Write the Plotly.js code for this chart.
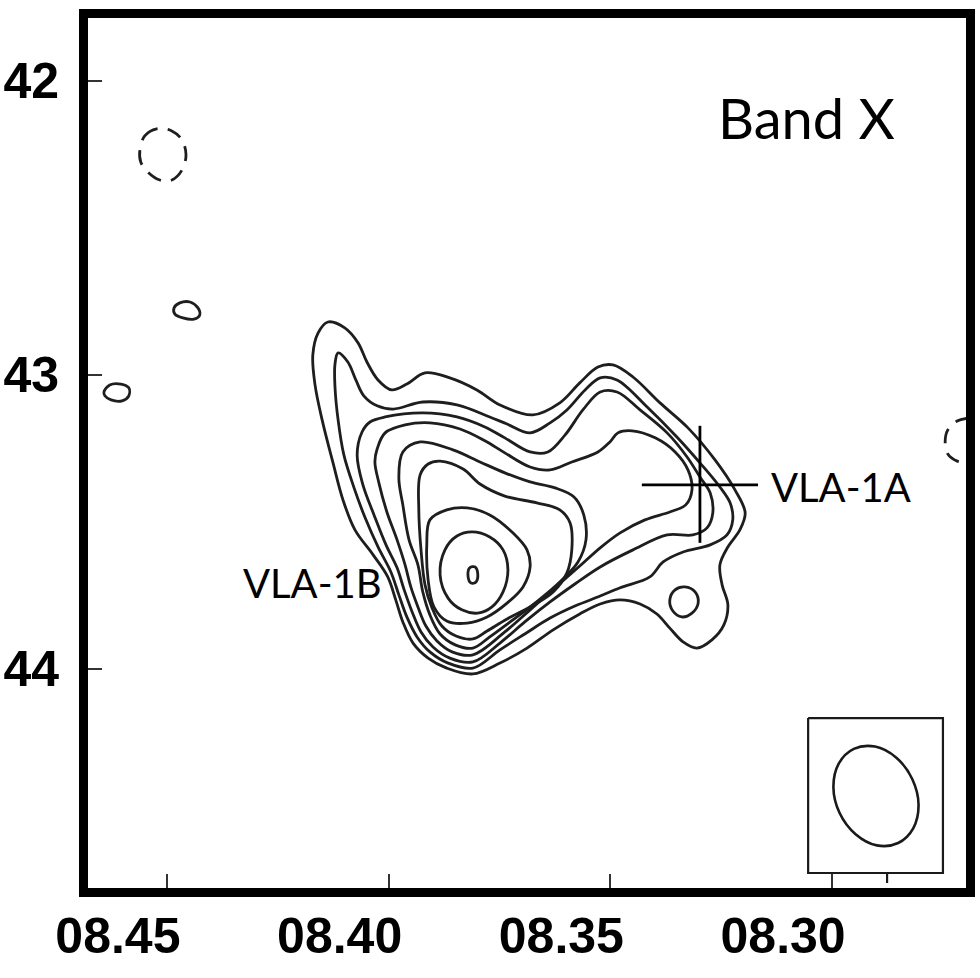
<!DOCTYPE html>
<html>
<head>
<meta charset="utf-8">
<script src="https://cdn.plot.ly/plotly-3.0.1.min.js"></script>
<style>
  html, body { margin: 0; padding: 0; background: #fff; }
  #plot { width: 980px; height: 978px; }
</style>
</head>
<body>
<div id="plot"></div>
<script>
// tick labels
var xTickVals = [8.45, 8.40, 8.35, 8.30];
var xTickText = ['08.45', '08.40', '08.35', '08.30'];
var yTickVals = [42, 43, 44];

// contour levels, outermost first (RA seconds, Dec arcsec)
var c1x = [8.4137, 8.4099, 8.4069, 8.4049, 8.4024, 8.3993, 8.3959, 8.3918, 8.3862, 8.3801, 8.3749, 8.3675, 8.3614, 8.3569, 8.3528, 8.3494, 8.3449, 8.3388, 8.3325, 8.3264, 8.3219, 8.3196, 8.3208, 8.3235, 8.3253, 8.3248, 8.3235, 8.3244, 8.3271, 8.3305, 8.3336, 8.3366, 8.3395, 8.3433, 8.3478, 8.3523, 8.3569, 8.3629, 8.3688, 8.3749, 8.3810, 8.3869, 8.3911, 8.3945, 8.3968, 8.3984, 8.4002, 8.4035, 8.4076, 8.4103, 8.4126, 8.4150, 8.4166, 8.4171, 8.4159, 8.4137];
var c1y = [42.820, 42.840, 42.891, 42.956, 43.017, 43.051, 43.031, 42.993, 43.010, 43.051, 43.102, 43.136, 43.095, 43.027, 42.973, 42.966, 43.007, 43.095, 43.180, 43.289, 43.391, 43.469, 43.527, 43.585, 43.646, 43.714, 43.782, 43.850, 43.901, 43.929, 43.908, 43.861, 43.813, 43.779, 43.765, 43.779, 43.813, 43.867, 43.929, 43.980, 44.017, 43.997, 43.963, 43.912, 43.840, 43.765, 43.687, 43.612, 43.527, 43.425, 43.296, 43.153, 43.034, 42.932, 42.857, 42.820];

var c2x = [8.4114, 8.4092, 8.4074, 8.4056, 8.4026, 8.3990, 8.3923, 8.3846, 8.3772, 8.3733, 8.3681, 8.3636, 8.3598, 8.3557, 8.3523, 8.3485, 8.3417, 8.3350, 8.3298, 8.3253, 8.3230, 8.3224, 8.3237, 8.3275, 8.3336, 8.3381, 8.3411, 8.3478, 8.3523, 8.3580, 8.3636, 8.3693, 8.3749, 8.3810, 8.3866, 8.3907, 8.3936, 8.3959, 8.3977, 8.3995, 8.4024, 8.4053, 8.4078, 8.4101, 8.4114, 8.4121, 8.4121, 8.4114];
var c2y = [42.925, 42.956, 43.017, 43.071, 43.105, 43.116, 43.092, 43.102, 43.143, 43.167, 43.197, 43.163, 43.119, 43.051, 43.010, 43.017, 43.109, 43.211, 43.299, 43.381, 43.435, 43.493, 43.544, 43.578, 43.602, 43.636, 43.687, 43.724, 43.752, 43.786, 43.827, 43.881, 43.935, 43.997, 43.980, 43.942, 43.891, 43.823, 43.748, 43.670, 43.585, 43.486, 43.384, 43.272, 43.153, 43.041, 42.963, 42.925];

// small island of level 2 south of VLA-1A
var c2bx = [8.3366, 8.3354, 8.3332, 8.3309, 8.3302, 8.3316, 8.3339, 8.3359, 8.3366];
var c2by = [43.765, 43.731, 43.721, 43.738, 43.776, 43.810, 43.823, 43.803, 43.765];

var c3x = [8.4060, 8.4042, 8.4008, 8.3923, 8.3846, 8.3783, 8.3738, 8.3681, 8.3641, 8.3602, 8.3562, 8.3523, 8.3485, 8.3433, 8.3372, 8.3327, 8.3298, 8.3275, 8.3269, 8.3282, 8.3314, 8.3372, 8.3449, 8.3523, 8.3580, 8.3636, 8.3693, 8.3749, 8.3810, 8.3862, 8.3900, 8.3927, 8.3947, 8.3965, 8.3981, 8.4006, 8.4033, 8.4058, 8.4071, 8.4060];
var c3y = [43.194, 43.160, 43.143, 43.129, 43.143, 43.177, 43.214, 43.262, 43.262, 43.204, 43.119, 43.058, 43.058, 43.119, 43.197, 43.279, 43.347, 43.401, 43.469, 43.520, 43.544, 43.544, 43.595, 43.653, 43.711, 43.772, 43.840, 43.912, 43.976, 43.963, 43.925, 43.874, 43.806, 43.731, 43.656, 43.578, 43.476, 43.374, 43.272, 43.194];

var c4x = [8.4026, 8.4008, 8.3963, 8.3907, 8.3839, 8.3783, 8.3738, 8.3681, 8.3636, 8.3587, 8.3528, 8.3501, 8.3483, 8.3451, 8.3399, 8.3354, 8.3325, 8.3316, 8.3330, 8.3366, 8.3422, 8.3478, 8.3523, 8.3569, 8.3625, 8.3681, 8.3738, 8.3810, 8.3857, 8.3891, 8.3916, 8.3934, 8.3950, 8.3963, 8.3981, 8.4004, 8.4022, 8.4031, 8.4026];
var c4y = [43.252, 43.197, 43.170, 43.163, 43.184, 43.224, 43.265, 43.313, 43.323, 43.296, 43.262, 43.228, 43.197, 43.190, 43.214, 43.262, 43.323, 43.391, 43.442, 43.466, 43.493, 43.537, 43.588, 43.650, 43.724, 43.799, 43.874, 43.952, 43.942, 43.905, 43.854, 43.789, 43.721, 43.646, 43.561, 43.466, 43.367, 43.296, 43.252];

var c5x = [8.3968, 8.3929, 8.3855, 8.3794, 8.3738, 8.3681, 8.3625, 8.3582, 8.3560, 8.3555, 8.3573, 8.3614, 8.3670, 8.3726, 8.3772, 8.3810, 8.3850, 8.3884, 8.3907, 8.3923, 8.3934, 8.3954, 8.3968, 8.3977, 8.3968];
var c5y = [43.262, 43.228, 43.255, 43.296, 43.333, 43.364, 43.384, 43.415, 43.476, 43.561, 43.636, 43.704, 43.776, 43.840, 43.891, 43.929, 43.918, 43.881, 43.816, 43.738, 43.646, 43.561, 43.442, 43.350, 43.262];

var c6x = [8.3929, 8.3911, 8.3884, 8.3832, 8.3794, 8.3738, 8.3666, 8.3614, 8.3591, 8.3587, 8.3598, 8.3629, 8.3681, 8.3733, 8.3778, 8.3810, 8.3848, 8.3880, 8.3902, 8.3918, 8.3927, 8.3932, 8.3929];
var c6y = [43.340, 43.303, 43.293, 43.320, 43.371, 43.412, 43.435, 43.459, 43.503, 43.595, 43.673, 43.738, 43.789, 43.830, 43.871, 43.898, 43.888, 43.854, 43.793, 43.714, 43.595, 43.459, 43.340];

var c7x = [8.3907, 8.3869, 8.3823, 8.3772, 8.3720, 8.3688, 8.3681, 8.3697, 8.3733, 8.3778, 8.3823, 8.3869, 8.3898, 8.3911, 8.3914, 8.3907];
var c7y = [43.493, 43.459, 43.452, 43.476, 43.537, 43.595, 43.653, 43.721, 43.776, 43.823, 43.844, 43.837, 43.789, 43.697, 43.578, 43.493];

var c8x = [8.3884, 8.3873, 8.3846, 8.3812, 8.3772, 8.3742, 8.3731, 8.3742, 8.3767, 8.3799, 8.3835, 8.3866, 8.3884];
var c8y = [43.680, 43.595, 43.548, 43.534, 43.551, 43.595, 43.663, 43.738, 43.789, 43.810, 43.799, 43.759, 43.680];

var c9x = [8.3821, 8.3817, 8.3805, 8.3799, 8.3803, 8.3814, 8.3821];
var c9y = [43.684, 43.656, 43.653, 43.677, 43.704, 43.708, 43.684];

// isolated positive islands to the north-west
var isleAx = [8.4484, 8.4471, 8.4448, 8.4430, 8.4426, 8.4439, 8.4464, 8.4482, 8.4484];
var isleAy = [42.772, 42.755, 42.752, 42.772, 42.796, 42.810, 42.806, 42.793, 42.772];
var isleBx = [8.4642, 8.4629, 8.4604, 8.4586, 8.4586, 8.4601, 8.4626, 8.4640, 8.4642];
var isleBy = [43.058, 43.034, 43.031, 43.044, 43.071, 43.088, 43.085, 43.071, 43.058];

// negative contours (dashed)
var negAx = [8.4561, 8.4550, 8.4523, 8.4489, 8.4466, 8.4457, 8.4466, 8.4489, 8.4516, 8.4543, 8.4559, 8.4561];
var negAy = [42.235, 42.187, 42.163, 42.170, 42.201, 42.252, 42.303, 42.337, 42.337, 42.310, 42.276, 42.235];
var negBx = [8.2689, 8.2718, 8.2739, 8.2745, 8.2739, 8.2718, 8.2689];
var negBy = [43.146, 43.157, 43.187, 43.228, 43.269, 43.293, 43.299];

// VLA-1A position cross
var crossX = [8.3429, 8.3167, null, 8.3298, 8.3298];
var crossY = [43.374, 43.374, null, 43.173, 43.571];

// synthesized beam and its box
var beamX = [8.2951, 8.2903, 8.2855, 8.2819, 8.2805, 8.2817, 8.2851, 8.2899, 8.2947, 8.2983, 8.2997, 8.2985, 8.2951];
var beamY = [44.272, 44.264, 44.302, 44.375, 44.462, 44.542, 44.592, 44.600, 44.562, 44.490, 44.402, 44.322, 44.272];
var boxX = [8.3054, 8.2750, 8.2750, 8.3054, 8.3054, null, 8.2876, 8.2876];
var boxY = [44.167, 44.167, 44.694, 44.694, 44.167, null, 44.694, 44.728];

var contourLine = {color: '#1e1e1e', width: 2.8, shape: 'spline', smoothing: 1};
var dashedLine = {color: '#1e1e1e', width: 2.8, dash: '15px,10px', shape: 'spline'};

function ring(x, y) {
  return {x: x, y: y, mode: 'lines', type: 'scatter', line: contourLine, hoverinfo: 'skip'};
}

var data = [
  ring(c1x, c1y), ring(c2x, c2y), ring(c2bx, c2by), ring(c3x, c3y),
  ring(c4x, c4y), ring(c5x, c5y), ring(c6x, c6y), ring(c7x, c7y),
  ring(c8x, c8y), ring(c9x, c9y), ring(isleAx, isleAy), ring(isleBx, isleBy),
  {x: negAx, y: negAy, mode: 'lines', type: 'scatter', line: dashedLine},
  {x: negBx, y: negBy, mode: 'lines', type: 'scatter', line: dashedLine},
  {x: crossX, y: crossY, mode: 'lines', type: 'scatter',
   line: {color: 'black', width: 2.8}},
  {x: beamX, y: beamY, mode: 'lines', type: 'scatter',
   line: {color: '#1a1a1a', width: 2.6, shape: 'spline'}},
  {x: boxX, y: boxY, mode: 'lines', type: 'scatter',
   line: {color: '#1a1a1a', width: 2.2}}
];

var tickFont = {family: 'Liberation Sans, Arial, sans-serif', size: 50, color: 'black', weight: 'bold'};
var labelFont = {family: 'Lato, "Open Sans", sans-serif', color: 'black'};

var layout = {
  width: 980,
  height: 978,
  margin: {l: 88, r: 14, t: 18, b: 90},
  paper_bgcolor: 'white',
  plot_bgcolor: 'white',
  showlegend: false,
  xaxis: {
    range: [8.4678, 8.2698],
    tickvals: xTickVals,
    ticktext: xTickText,
    ticks: 'inside',
    ticklen: 14,
    tickwidth: 2,
    tickcolor: '#333',
    tickfont: tickFont,
    ticklabelshift: 49,
    ticklabelstandoff: -4,
    showline: true,
    linewidth: 9,
    linecolor: 'black',
    mirror: true,
    showgrid: false,
    zeroline: false
  },
  yaxis: {
    range: [44.745, 41.786],
    tickvals: yTickVals,
    ticks: 'inside',
    ticklen: 14,
    tickwidth: 2,
    tickcolor: '#333',
    tickfont: tickFont,
    ticklabelstandoff: 10,
    showline: true,
    linewidth: 9,
    linecolor: 'black',
    mirror: true,
    showgrid: false,
    zeroline: false
  },
  annotations: [
    {x: 8.3057, y: 42.126, xref: 'x', yref: 'y', text: 'Band X', showarrow: false,
     font: Object.assign({size: 56}, labelFont)},
    {x: 8.2980, y: 43.381, xref: 'x', yref: 'y', text: 'VLA-1A', showarrow: false,
     font: Object.assign({size: 40}, labelFont)},
    {x: 8.4171, y: 43.707, xref: 'x', yref: 'y', text: 'VLA-1B', showarrow: false,
     font: Object.assign({size: 40}, labelFont)}
  ]
};

Plotly.newPlot('plot', data, layout, {displayModeBar: false, staticPlot: true});
</script>
</body>
</html>
